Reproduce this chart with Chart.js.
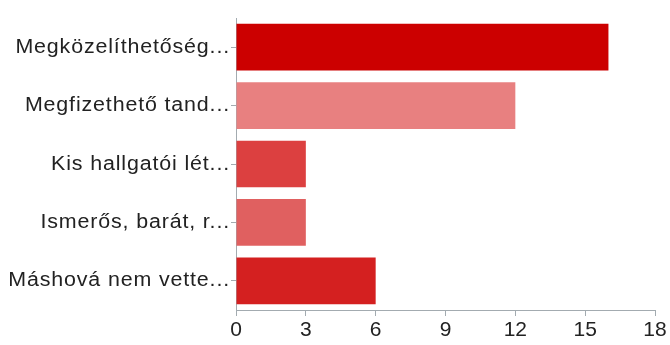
<!DOCTYPE html>
<html>
<head>
<meta charset="utf-8">
<script src="https://cdn.jsdelivr.net/npm/chart.js@4"></script>
<style>
  html, body { margin: 0; padding: 0; background: #fff; }
  #wrap { width: 670px; height: 345px; }
</style>
</head>
<body>
<div id="wrap"><canvas id="chart"></canvas></div>
<script>
const categories = [
  'Megközelíthetőség...',
  'Megfizethető tand...',
  'Kis hallgatói lét...',
  'Ismerős, barát, r...',
  'Máshová nem vette...'
];
const values = [16, 12, 3, 3, 6];
const barColors = ['#cc0000', '#e88080', '#dc4040', '#e06060', '#d42020'];
const xTicks = [0, 3, 6, 9, 12, 15, 18];

const axisColor = '#a3abb0';

// the category labels in the original are set a little wider than Arial
const wideLabels = {
  id: 'wideLabels',
  beforeDraw(chart) {
    const y = chart.scales.y;
    if (!y || y._widePatched) return;
    const orig = y.drawLabels;
    y.drawLabels = function (area) {
      const ctx = this.ctx;
      const edge = this.right - 6;
      ctx.save();
      ctx.translate(edge, 0);
      ctx.scale(1.07, 1);
      ctx.translate(-edge, 0);
      ctx.letterSpacing = '0.8px';
      orig.call(this, area);
      ctx.restore();
    };
    y._widePatched = true;
  }
};

new Chart(document.getElementById('chart'), {
  type: 'bar',
  data: {
    labels: categories,
    datasets: [{
      data: values,
      backgroundColor: barColors,
      barPercentage: 0.8,
      categoryPercentage: 1
    }]
  },
  options: {
    indexAxis: 'y',
    responsive: true,
    maintainAspectRatio: false,
    animation: false,
    layout: { padding: { top: 18, right: 15, left: 0, bottom: 0 } },
    plugins: { legend: { display: false }, tooltip: { enabled: false } },
    scales: {
      x: {
        min: 0,
        max: 18,
        afterBuildTicks: axis => { axis.ticks = xTicks.map(v => ({ value: v })); },
        afterFit: axis => { axis.height = 35; },
        border: { color: axisColor },
        grid: { drawOnChartArea: false, color: axisColor, tickLength: 6 },
        ticks: {
          color: '#222',
          padding: 2,
          maxRotation: 0,
          font: { family: '"Liberation Sans", Arial, sans-serif', size: 21 }
        }
      },
      y: {
        afterFit: axis => { axis.width = 236; },
        border: { color: axisColor },
        grid: { drawOnChartArea: false, offset: false, color: axisColor, tickLength: 5 },
        ticks: {
          color: '#222',
          padding: 1,
          font: { family: '"Liberation Sans", Arial, sans-serif', size: 20 }
        }
      }
    }
  },
  plugins: [wideLabels]
});
</script>
</body>
</html>
